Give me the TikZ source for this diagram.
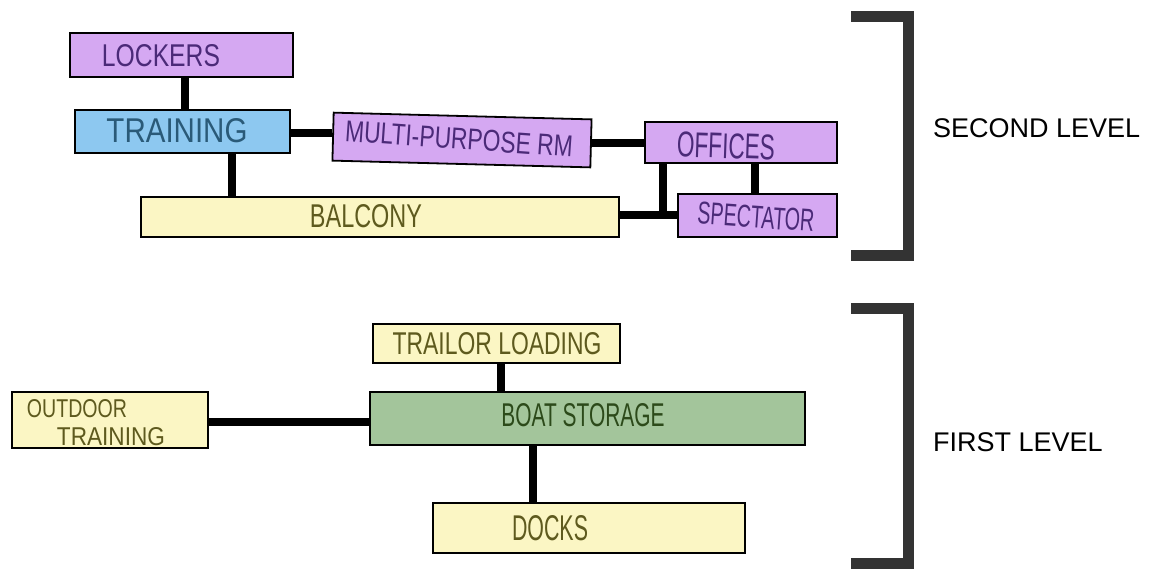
\documentclass[tikz,border=0pt]{standalone}
\usepackage{fontspec}
\setmainfont{Liberation Sans}
\usepackage{graphicx}
\usetikzlibrary{calc}
\definecolor{purpF}{HTML}{D5A8F2}
\definecolor{blueF}{HTML}{8DC8F0}
\definecolor{yellF}{HTML}{FBF6C4}
\definecolor{greenF}{HTML}{A3C59B}
\definecolor{purpT}{HTML}{4B2A78}
\definecolor{blueT}{HTML}{2A5A78}
\definecolor{yellT}{HTML}{5E5A1E}
\definecolor{greenT}{HTML}{2C4A1A}
\definecolor{brk}{HTML}{333333}
\newcommand{\hw}[3]{\resizebox{#1pt}{#2pt}{#3}}
\tikzset{
  room/.style={draw=black, line width=1.8pt, inner sep=0pt},
  lbl/.style={inner sep=0pt},
  conn/.style={line width=8pt, black},
  bracket/.style={line width=11pt, brk, miter limit=10},
  level/.style={inner sep=0pt, anchor=base west, font=\fontsize{27}{30}\selectfont}
}
\begin{document}
\begin{tikzpicture}[x=1pt,y=-1pt]
\useasboundingbox[fill=white] (0,0) rectangle (1156,568);

% second level rooms
\node[room, fill=purpF, minimum width=223pt, minimum height=44pt] (lockers) at (181.5,55) {};
\node[room, fill=blueF, minimum width=215pt, minimum height=43pt] (training) at (182.5,131.5) {};
\node[room, fill=purpF, minimum width=258pt, minimum height=48pt, rotate=-1.5] (mp) at (462,140) {};
\node[room, fill=purpF, minimum width=192pt, minimum height=41pt] (offices) at (741,142.5) {};
\node[room, fill=yellF, minimum width=478pt, minimum height=40pt] (balcony) at (380,217) {};
\node[room, fill=purpF, minimum width=159pt, minimum height=43pt] (spectator) at (757.5,215.5) {};

% first level rooms
\node[room, fill=yellF, minimum width=247pt, minimum height=39pt] (trailor) at (496.5,343.5) {};
\node[room, fill=greenF, minimum width=435pt, minimum height=53pt] (boat) at (587.5,418.5) {};
\node[room, fill=yellF, minimum width=312pt, minimum height=50pt] (docks) at (589,528) {};
\node[room, fill=yellF, minimum width=196pt, minimum height=56pt] (outdoor) at (110,420) {};

% connector guide coordinates
\coordinate (xa) at (185,0);
\coordinate (xb) at (232,0);
\coordinate (ya) at (0,133);
\coordinate (yb) at (0,143);
\coordinate (xc) at (755,0);
\coordinate (yc) at (0,215);
\coordinate (j) at (663,215);
\coordinate (xd) at (501,0);
\coordinate (xe) at (533,0);
\coordinate (yd) at (0,422);

% connectors
\draw[conn] (lockers.south -| xa) -- (training.north -| xa);
\draw[conn] (training.south -| xb) -- (balcony.north -| xb);
\draw[conn] (training.east |- ya) -- (mp.west |- ya);
\draw[conn] (mp.east |- yb) -- (offices.west |- yb);
\draw[conn] (offices.south -| xc) -- (spectator.north -| xc);
\draw[conn] (balcony.east |- yc) -- (spectator.west |- yc);
\draw[conn] (offices.south -| j) -- (j);
\draw[conn] (trailor.south -| xd) -- (boat.north -| xd);
\draw[conn] (boat.south -| xe) -- (docks.north -| xe);
\draw[conn] (outdoor.east |- yd) -- (boat.west |- yd);

% labels
\node[lbl, text=purpT] (lockersT) at (161,56) {\hw{118}{22}{LOCKERS}};
\node[lbl, text=blueT] (trainingT) at (177,131) {\hw{141}{24}{TRAINING}};
\node[lbl, text=purpT, rotate=-4] (mpT) at (459,139) {\hw{228}{21}{MULTI-PURPOSE RM}};
\node[lbl, text=purpT, rotate=-2] (officesT) at (726,146) {\hw{98}{25}{OFFICES}};
\node[lbl, text=yellT] (balconyT) at (366,216) {\hw{112}{23}{BALCONY}};
\node[lbl, text=purpT, rotate=-4] (spectatorT) at (756,217) {\hw{117}{22}{SPECTATOR}};
\node[lbl, text=yellT] (trailorT) at (497,344) {\hw{209}{22}{TRAILOR LOADING}};
\node[lbl, text=greenT] (boatT) at (583,415) {\hw{163}{23}{BOAT STORAGE}};
\node[lbl, text=yellT] (docksT) at (550,528) {\hw{76}{25}{DOCKS}};
\node[lbl, text=yellT] (outdoorT1) at (77,409) {\hw{100}{18}{OUTDOOR}};
\node[lbl, text=yellT] (outdoorT2) at (111,437) {\hw{108}{18}{TRAINING}};

% level brackets
\draw[bracket] (851,16) -- (908,16) -- (908,255) -- (851,255);
\draw[bracket] (851,308) -- (908,308) -- (908,563) -- (851,563);
\node[level] (second) at (933,137) {SECOND LEVEL};
\node[level] (first) at (933,451) {FIRST LEVEL};
\end{tikzpicture}
\end{document}
